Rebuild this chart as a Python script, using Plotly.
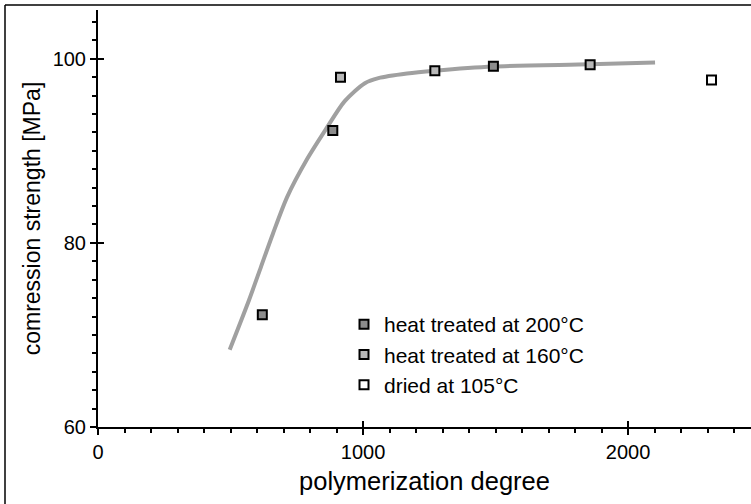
import plotly.graph_objects as go

# Data
dp_200 = [620, 886, 1492]
cs_200 = [72.2, 92.2, 99.2]
dp_160 = [915, 1271, 1857]
cs_160 = [98.0, 98.7, 99.35]
dp_105 = [2315]
cs_105 = [97.7]

fit_dp = [497, 570, 615, 660, 714, 787, 859, 931, 1007, 1058, 1166, 1271, 1491, 1857, 2102]
fit_cs = [68.4, 73.8, 77.4, 81.0, 85.0, 89.0, 92.3, 95.4, 97.35, 97.9, 98.4, 98.7, 99.15, 99.4, 99.6]

x_major = [0, 1000, 2000]
y_major = [60, 80, 100]

FONT = "Liberation Sans, Arial, sans-serif"

fig = go.Figure()
fig.add_trace(go.Scatter(x=fit_dp, y=fit_cs, mode="lines",
                         line=dict(color="#a0a0a0", width=4, shape="spline", smoothing=0.8),
                         showlegend=False, hoverinfo="skip"))
fig.add_trace(go.Scatter(x=dp_200, y=cs_200, mode="markers", name="heat treated at 200°C",
                         marker=dict(symbol="square", size=9, color="#8c8c8c", line=dict(color="black", width=2))))
fig.add_trace(go.Scatter(x=dp_160, y=cs_160, mode="markers", name="heat treated at 160°C",
                         marker=dict(symbol="square", size=9, color="#b8b8b8", line=dict(color="black", width=2))))
fig.add_trace(go.Scatter(x=dp_105, y=cs_105, mode="markers", name="dried at 105°C",
                         marker=dict(symbol="square", size=9, color="white", line=dict(color="black", width=2))))
fig.add_trace(go.Scatter(x=[None], y=[None], xaxis="x2", yaxis="y2", showlegend=False, hoverinfo="skip"))

xr = [0, 2464]
yr = [60, 105.3]

fig.update_layout(
    width=751, height=504,
    margin=dict(l=98, r=0, t=10, b=77),
    paper_bgcolor="white", plot_bgcolor="white",
    font=dict(family=FONT, size=20, color="black"),
    xaxis=dict(range=xr, tickvals=x_major, ticktext=[str(v) for v in x_major],
               ticks="outside", ticklen=6, tickwidth=2, tickcolor="black",
               showline=True, linecolor="black", linewidth=2, showgrid=False, zeroline=False,
               minor=dict(dtick=100, ticks="outside", ticklen=4, tickwidth=1.5, tickcolor="black"),
               title=dict(text="polymerization degree", font=dict(size=25.5), standoff=10),
               tickfont=dict(size=20)),
    yaxis=dict(range=yr, tickvals=y_major, ticktext=[str(v) for v in y_major],
               ticks="outside", ticklen=6, tickwidth=2, tickcolor="black",
               showline=True, linecolor="black", linewidth=2, showgrid=False, zeroline=False,
               minor=dict(dtick=2, ticks="outside", ticklen=4, tickwidth=1.5, tickcolor="black"),
               title=dict(text="comression strength [MPa]", font=dict(size=23), standoff=6),
               tickfont=dict(size=20)),
    xaxis2=dict(range=xr, overlaying="x", tickvals=x_major, ticks="inside", ticklen=6, tickwidth=2,
                tickcolor="black", showticklabels=False, showgrid=False, zeroline=False, showline=False,
                anchor="y"),
    yaxis2=dict(range=yr, overlaying="y", tickvals=y_major, ticks="inside", ticklen=6, tickwidth=2,
                tickcolor="black", showticklabels=False, showgrid=False, zeroline=False, showline=False,
                anchor="x"),
    legend=dict(x=(344 - 98) / 653, y=(427 - 304) / 417, xanchor="left", yanchor="top",
                bgcolor="rgba(0,0,0,0)", font=dict(size=21), itemwidth=30, tracegroupgap=0),
    shapes=[
        dict(type="line", xref="paper", yref="paper", x0=-93/653, x1=1.01, y0=1 + 5/417, y1=1 + 5/417,
             line=dict(color="black", width=1.5)),
        dict(type="line", xref="paper", yref="paper", x0=-93/653, x1=-93/653, y0=1 + 5/417, y1=-80/417,
             line=dict(color="black", width=1.5)),
    ],
)

fig.write_html("out.html")
